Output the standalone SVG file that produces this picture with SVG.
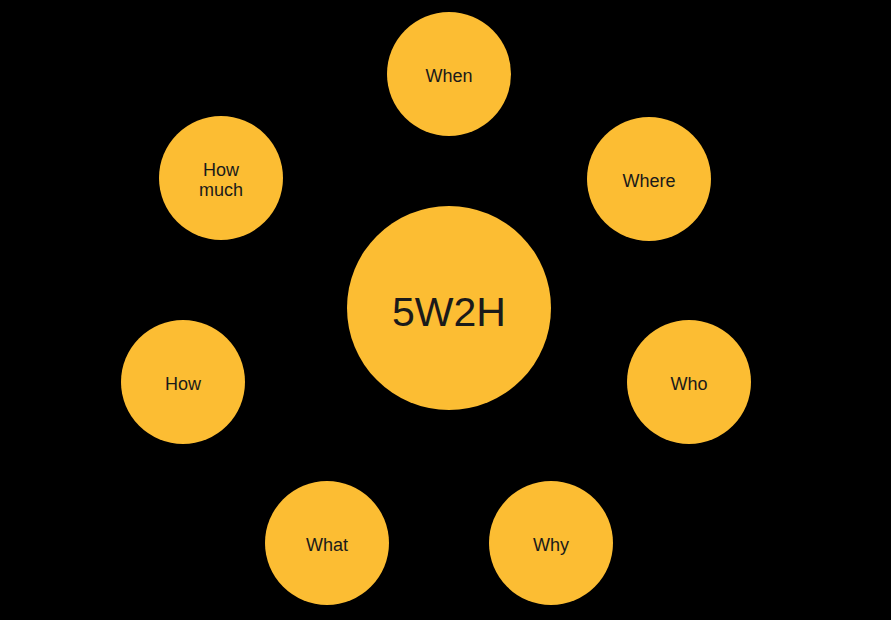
<svg xmlns="http://www.w3.org/2000/svg" width="891" height="620" viewBox="0 0 891 620">
<style>
.n{fill:#FCBD33}
.t{font-family:"Liberation Sans",Arial,sans-serif;font-size:18px;fill:#1a1a1a;text-anchor:middle}
.c{font-size:41px}
</style>
<rect width="891" height="620" fill="#000"/>
<g id="connectors"></g>
<g id="center"><circle class="n" cx="449" cy="308" r="102"/><text class="t c" x="449" y="326">5W2H</text></g>
<g id="when"><circle class="n" cx="449" cy="74" r="62"/><text class="t" x="449" y="82">When</text></g>
<g id="where"><circle class="n" cx="649" cy="179" r="62"/><text class="t" x="649" y="187">Where</text></g>
<g id="who"><circle class="n" cx="689" cy="382" r="62"/><text class="t" x="689" y="390">Who</text></g>
<g id="why"><circle class="n" cx="551" cy="543" r="62"/><text class="t" x="551" y="551">Why</text></g>
<g id="what"><circle class="n" cx="327" cy="543" r="62"/><text class="t" x="327" y="551">What</text></g>
<g id="how"><circle class="n" cx="183" cy="382" r="62"/><text class="t" x="183" y="390">How</text></g>
<g id="howmuch"><circle class="n" cx="221" cy="178" r="62"/><text class="t" x="221" y="176">How</text><text class="t" x="221" y="196">much</text></g>
</svg>
